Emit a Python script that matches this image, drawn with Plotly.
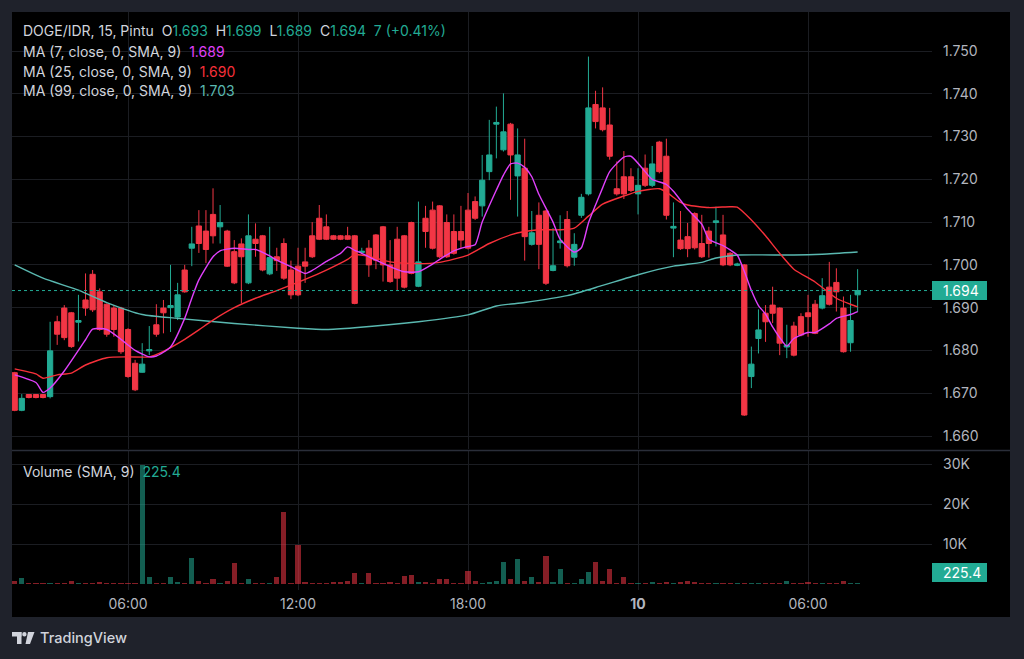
import pandas as pd
import plotly.graph_objects as go

# ---------------- data ----------------
start_time = "2024-09-09 02:00"
bar_minutes = 15

opens = [1.6748, 1.6660, 1.6697, 1.6697, 1.6697, 1.6692, 1.6867, 1.6899, 1.6888, 1.6866,
         1.6918, 1.6978, 1.6937, 1.6908, 1.6899, 1.6899, 1.6849, 1.6770, 1.6749, 1.6799,
         1.6860, 1.6899, 1.6900, 1.6878, 1.6988, 1.7039, 1.7091, 1.7079, 1.7118, 1.7089,
         1.7079, 1.7031, 1.7049, 1.6958, 1.7060, 1.7068, 1.6979, 1.7019, 1.7050, 1.6988,
         1.6997, 1.7007, 1.7068, 1.7109, 1.7089, 1.7068, 1.7068, 1.7068, 1.7068, 1.7029,
         1.7039, 1.7070, 1.7089, 1.7000, 1.7060, 1.7068, 1.7099, 1.6950, 1.7109, 1.7128,
         1.7138, 1.7099, 1.7078, 1.7078, 1.7128, 1.7148, 1.7138, 1.7218, 1.7329, 1.7269,
         1.7329, 1.7208, 1.7226, 1.7048, 1.7116, 1.7126, 1.6987, 1.7052, 1.7106, 1.7018,
         1.7116, 1.7166, 1.7375, 1.7367, 1.7327, 1.7178, 1.7206, 1.7206, 1.7166, 1.7226,
         1.7186, 1.7287, 1.7254, 1.7086, 1.7058, 1.7066, 1.7120, 1.7050, 1.7079, 1.7099,
         1.7070, 1.7027, 1.6999, 1.7000, 1.6739, 1.6828, 1.6887, 1.6906, 1.6899, 1.6808,
         1.6857, 1.6879, 1.6888, 1.6908, 1.6899, 1.6948, 1.6959, 1.6899, 1.6818, 1.6930]
highs = [1.6750, 1.6698, 1.6698, 1.6698, 1.6698, 1.6867, 1.6881, 1.6906, 1.6890, 1.6930,
         1.6980, 1.6988, 1.6945, 1.6910, 1.6905, 1.6902, 1.6852, 1.6778, 1.6817, 1.6857,
         1.6908, 1.6918, 1.7000, 1.6958, 1.7000, 1.7089, 1.7128, 1.7128, 1.7179, 1.7140,
         1.7082, 1.7058, 1.7062, 1.7118, 1.7097, 1.7070, 1.7089, 1.7040, 1.7062, 1.7010,
         1.7040, 1.7040, 1.7100, 1.7140, 1.7118, 1.7070, 1.7070, 1.7089, 1.7070, 1.7040,
         1.7058, 1.7072, 1.7091, 1.7058, 1.7089, 1.7070, 1.7101, 1.7148, 1.7138, 1.7148,
         1.7140, 1.7118, 1.7118, 1.7138, 1.7168, 1.7160, 1.7257, 1.7339, 1.7370, 1.7401,
         1.7332, 1.7319, 1.7295, 1.7126, 1.7146, 1.7128, 1.7086, 1.7116, 1.7126, 1.7074,
         1.7166, 1.7487, 1.7407, 1.7415, 1.7367, 1.7242, 1.7266, 1.7226, 1.7226, 1.7258,
         1.7278, 1.7290, 1.7295, 1.7146, 1.7126, 1.7098, 1.7123, 1.7117, 1.7089, 1.7136,
         1.7117, 1.7030, 1.7005, 1.7002, 1.6809, 1.6896, 1.6906, 1.6949, 1.6901, 1.6860,
         1.6867, 1.6887, 1.6930, 1.6918, 1.6969, 1.7007, 1.6992, 1.6926, 1.6930, 1.6990]
lows = [1.6658, 1.6658, 1.6688, 1.6688, 1.6688, 1.6688, 1.6813, 1.6824, 1.6806, 1.6821,
        1.6881, 1.6890, 1.6846, 1.6832, 1.6832, 1.6792, 1.6736, 1.6705, 1.6748, 1.6789,
        1.6832, 1.6840, 1.6843, 1.6871, 1.6935, 1.6997, 1.7028, 1.7004, 1.7050, 1.7050,
        1.6995, 1.6955, 1.6910, 1.6955, 1.7019, 1.6985, 1.6976, 1.6986, 1.6965, 1.6920,
        1.6927, 1.6958, 1.7016, 1.7058, 1.7058, 1.7058, 1.7058, 1.7058, 1.6908, 1.7025,
        1.6972, 1.6990, 1.6961, 1.6958, 1.6940, 1.6945, 1.6978, 1.6948, 1.7040, 1.7036,
        1.7016, 1.7016, 1.7024, 1.7039, 1.7036, 1.7105, 1.7113, 1.7198, 1.7249, 1.7265,
        1.7152, 1.7113, 1.7010, 1.7045, 1.6990, 1.6953, 1.6985, 1.7038, 1.6994, 1.6998,
        1.7110, 1.7162, 1.7319, 1.7312, 1.7246, 1.7162, 1.7154, 1.7170, 1.7118, 1.7182,
        1.7182, 1.7214, 1.7106, 1.7018, 1.7035, 1.7018, 1.7036, 1.7016, 1.7017, 1.7043,
        1.6997, 1.6997, 1.6997, 1.6647, 1.6712, 1.6793, 1.6820, 1.6864, 1.6789, 1.6782,
        1.6786, 1.6833, 1.6832, 1.6838, 1.6896, 1.6905, 1.6891, 1.6795, 1.6797, 1.6890]
closes = [1.6660, 1.6688, 1.6690, 1.6690, 1.6690, 1.6799, 1.6838, 1.6830, 1.6809, 1.6870,
          1.6899, 1.6895, 1.6849, 1.6838, 1.6849, 1.6797, 1.6739, 1.6708, 1.6768, 1.6802,
          1.6838, 1.6888, 1.6905, 1.6930, 1.6937, 1.7049, 1.7050, 1.7036, 1.7068, 1.7099,
          1.6997, 1.6958, 1.7019, 1.7068, 1.7050, 1.6988, 1.7017, 1.7010, 1.6969, 1.6930,
          1.6930, 1.6997, 1.7019, 1.7060, 1.7060, 1.7060, 1.7060, 1.7060, 1.6910, 1.7032,
          1.7000, 1.7011, 1.7000, 1.6961, 1.6969, 1.6948, 1.6980, 1.7007, 1.7078, 1.7039,
          1.7019, 1.7019, 1.7027, 1.7058, 1.7039, 1.7109, 1.7198, 1.7257, 1.7333, 1.7311,
          1.7257, 1.7257, 1.7066, 1.7075, 1.7048, 1.6957, 1.6998, 1.7056, 1.6998, 1.7048,
          1.7158, 1.7367, 1.7335, 1.7316, 1.7254, 1.7166, 1.7166, 1.7174, 1.7186, 1.7186,
          1.7236, 1.7218, 1.7116, 1.7090, 1.7038, 1.7038, 1.7040, 1.7019, 1.7050, 1.7103,
          1.7000, 1.7000, 1.7002, 1.6649, 1.6768, 1.6848, 1.6867, 1.6887, 1.6817, 1.6812,
          1.6789, 1.6836, 1.6879, 1.6840, 1.6928, 1.6908, 1.6937, 1.6797, 1.6870, 1.6940]
volumes = [800, 1500, 200, 200, 200, 250, 200, 200, 700, 150,
           200, 200, 400, 250, 200, 250, 250, 300, 29800, 1800,
           200, 300, 1700, 400, 200, 6500, 700, 200, 1300, 250,
           800, 5200, 250, 1300, 250, 250, 300, 1700, 17900, 300,
           9800, 400, 200, 200, 250, 600, 450, 800, 2700, 200,
           2700, 200, 250, 450, 250, 2100, 2200, 500, 550, 250,
           1300, 1300, 300, 300, 3300, 800, 350, 400, 800, 5600,
           1300, 6300, 700, 1700, 600, 7000, 450, 3750, 250, 300,
           1200, 2900, 5400, 700, 3700, 250, 1800, 200, 200, 300,
           600, 250, 600, 250, 600, 650, 600, 250, 200, 200,
           250, 200, 200, 300, 250, 200, 200, 250, 300, 800,
           250, 250, 600, 250, 200, 250, 250, 700, 250, 225.4]

ma7_idx = [0, 3, 4, 5, 7, 10, 11, 13, 15, 17, 19, 20, 22, 24, 25, 26, 28, 29, 31, 33,
           34, 36, 37, 39, 41, 42, 44, 46, 47, 48, 49, 51, 53, 55, 57, 59, 60, 62, 64, 65,
           66, 68, 69, 70, 71, 72, 73, 74, 76, 77, 79, 80, 81, 82, 83, 84, 86, 87, 89, 90,
           92, 93, 95, 97, 98, 100, 101, 102, 103, 104, 105, 106, 107, 108, 109, 110, 112, 113, 115, 116,
           118, 119]
ma7_val = [1.6743, 1.6725, 1.6702, 1.6712, 1.6752, 1.6825, 1.6850, 1.6849, 1.6826, 1.6800,
           1.6785, 1.6787, 1.6808, 1.6875, 1.6922, 1.6965, 1.7019, 1.7033, 1.7039, 1.7036,
           1.7036, 1.7021, 1.7011, 1.6996, 1.6980, 1.6987, 1.7008, 1.7027, 1.7042, 1.7034,
           1.7027, 1.7011, 1.6996, 1.6984, 1.6984, 1.7002, 1.7013, 1.7033, 1.7043, 1.7047,
           1.7100, 1.7175, 1.7210, 1.7236, 1.7238, 1.7228, 1.7206, 1.7165, 1.7100, 1.7060,
           1.7030, 1.7040, 1.7098, 1.7140, 1.7180, 1.7218, 1.7252, 1.7254, 1.7218, 1.7200,
           1.7188, 1.7172, 1.7130, 1.7095, 1.7060, 1.7045, 1.7035, 1.7023, 1.6985, 1.6940,
           1.6905, 1.6885, 1.6855, 1.6830, 1.6810, 1.6828, 1.6842, 1.6842, 1.6862, 1.6875,
           1.6884, 1.6891]
ma25_idx = [0, 3, 4, 6, 8, 10, 13, 16, 19, 21, 24, 26, 28, 31, 34, 37, 41, 44, 47, 48,
            50, 53, 57, 60, 64, 67, 70, 72, 74, 77, 79, 81, 83, 86, 88, 91, 92, 94, 95, 98,
            101, 102, 104, 106, 108, 110, 113, 116, 118, 119]
ma25_val = [1.6757, 1.6745, 1.6735, 1.6743, 1.6747, 1.6766, 1.6783, 1.6785, 1.6785, 1.6798,
            1.6826, 1.6848, 1.6871, 1.6900, 1.6922, 1.6940, 1.6966, 1.6988, 1.7013, 1.7024,
            1.7020, 1.7007, 1.7003, 1.7006, 1.7023, 1.7050, 1.7070, 1.7078, 1.7082, 1.7082,
            1.7086, 1.7114, 1.7142, 1.7161, 1.7172, 1.7178, 1.7170, 1.7146, 1.7140, 1.7134,
            1.7136, 1.7135, 1.7105, 1.7068, 1.7027, 1.6990, 1.6960, 1.6922, 1.6908, 1.6902]
ma99_idx = [0, 4, 9, 13, 18, 23, 31, 40, 44, 48, 57, 64, 68, 72, 78, 83, 88, 93, 97, 99,
            102, 110, 114, 119]
ma99_val = [1.7000, 1.6969, 1.6941, 1.6912, 1.6884, 1.6875, 1.6863, 1.6852, 1.6849, 1.6853,
            1.6867, 1.6883, 1.6904, 1.6912, 1.6928, 1.6952, 1.6977, 1.6997, 1.7006, 1.7016,
            1.7023, 1.7023, 1.7025, 1.7030]

x_tick_times = ["2024-09-09 06:00", "2024-09-09 12:00", "2024-09-09 18:00",
                "2024-09-10 00:00", "2024-09-10 06:00"]
x_tick_text = ["06:00", "12:00", "18:00", "<b>10</b>", "06:00"]
price_ticks = [1.660, 1.670, 1.680, 1.690, 1.700, 1.710, 1.720, 1.730, 1.740, 1.750]
price_tick_text = ["1.660", "1.670", "1.680", "1.690", "1.700", "1.710", "1.720", "1.730", "1.740", "1.750"]
vol_ticks = [10000, 20000, 30000]
vol_tick_text = ["10K", "20K", "30K"]

# ---------------- styles / geometry ----------------
UP = "#22ab94"
DOWN = "#f23645"
UP_VOL = "rgba(34,171,148,0.55)"
DOWN_VOL = "rgba(242,54,69,0.55)"
MA7_C = "#e040fb"
MA25_C = "#f7303a"
MA99_C = "#5ab8b0"
TXT = "#d1d4dc"
AX = "#b2b5be"
GRID = "#1b1d22"
FONT = "Inter"
FS = 14

FIG_W, FIG_H = 1024, 659
M_L, M_R, M_T, M_B = 12, 92, 12, 69
PLOT_W = FIG_W - M_L - M_R
PLOT_H = FIG_H - M_T - M_B


def px_x(px):
    return (px - M_L) / PLOT_W


def px_y(py):
    return (FIG_H - M_B - py) / PLOT_H


step = pd.Timedelta(minutes=bar_minutes)
t0 = pd.Timestamp(start_time)
times = [t0 + i * step for i in range(len(opens))]


def t_at(k):
    return t0 + pd.Timedelta(minutes=bar_minutes * k)


# price scale: 1.750 at y=51px, 1.660 at y=436px
ppu = (436 - 51) / (1.750 - 1.660)
p_top = 1.750 + (51 - M_T) / ppu
p_bot = 1.660 - (449 - 436) / ppu
# volume scale: 30K at y=464, 10K at 544 -> zero at 584
ppv = (544 - 464) / 20000
v_top = 30000 + (464 - 451) / ppv
v_bot = -(FIG_H - M_B - 584) / ppv

fig = go.Figure()

fig.add_trace(go.Candlestick(
    x=times, open=opens, high=highs, low=lows, close=closes,
    increasing=dict(line=dict(color=UP, width=1), fillcolor=UP),
    decreasing=dict(line=dict(color=DOWN, width=1), fillcolor=DOWN),
    whiskerwidth=0, xaxis="x", yaxis="y", showlegend=False, hoverinfo="skip"))

for idx, val, col in [(ma99_idx, ma99_val, MA99_C), (ma25_idx, ma25_val, MA25_C), (ma7_idx, ma7_val, MA7_C)]:
    fig.add_trace(go.Scatter(
        x=[t_at(k) for k in idx], y=val, mode="lines",
        line=dict(color=col, width=1.4, shape="spline", smoothing=0.6),
        xaxis="x", yaxis="y", showlegend=False, hoverinfo="skip"))

vol_colors = [UP_VOL if c >= o else DOWN_VOL for o, c in zip(opens, closes)]
fig.add_trace(go.Bar(
    x=times, y=volumes, marker=dict(color=vol_colors, line=dict(width=0)),
    width=0.74 * bar_minutes * 60 * 1000, xaxis="x2", yaxis="y2",
    showlegend=False, hoverinfo="skip"))

x_range = [t_at(-0.38), t_at(129.5)]
tick_dt = [pd.Timestamp(t) for t in x_tick_times]

fig.update_layout(
    width=FIG_W, height=FIG_H,
    margin=dict(l=M_L, r=M_R, t=M_T, b=M_B, pad=0),
    paper_bgcolor="#1f222b", plot_bgcolor="#000000",
    font=dict(family=FONT, size=FS, color=AX),
    bargap=0, boxgap=0.26, boxgroupgap=0,
    xaxis=dict(domain=[0, 1], anchor="y", range=x_range, type="date",
               tickvals=tick_dt, ticktext=x_tick_text, showticklabels=False,
               showgrid=True, gridcolor=GRID, gridwidth=1, zeroline=False,
               showline=False, rangeslider=dict(visible=False), fixedrange=True),
    xaxis2=dict(domain=[0, 1], anchor="y2", matches="x", range=x_range, type="date",
                tickvals=tick_dt, ticktext=x_tick_text, showticklabels=True,
                tickfont=dict(family=FONT, size=FS, color=AX), ticks="",
                ticklabelstandoff=4,
                showgrid=True, gridcolor=GRID, gridwidth=1, zeroline=False,
                showline=False, rangeslider=dict(visible=False)),
    yaxis=dict(domain=[px_y(449), 1], anchor="x", range=[p_bot, p_top], side="right",
               tickvals=price_ticks, ticktext=price_tick_text, ticks="",
               ticklabelstandoff=10,
               tickfont=dict(family=FONT, size=FS, color=AX),
               showgrid=True, gridcolor=GRID, zeroline=False, showline=False),
    yaxis2=dict(domain=[0, px_y(451)], anchor="x2", range=[v_bot, v_top], side="right",
                tickvals=vol_ticks, ticktext=vol_tick_text, ticks="",
                ticklabelstandoff=10,
                tickfont=dict(family=FONT, size=FS, color=AX),
                showgrid=True, gridcolor=GRID, zeroline=False, showline=False),
)

last_c = closes[-1]
shapes = [
    # black chart panel
    dict(type="rect", xref="paper", yref="paper", x0=px_x(12), x1=px_x(1010),
         y0=px_y(617), y1=px_y(12), fillcolor="#000000", line=dict(width=0), layer="below"),
    # pane separator
    dict(type="line", xref="paper", yref="paper", x0=px_x(12), x1=px_x(1010),
         y0=px_y(450.5), y1=px_y(450.5), line=dict(color="#2a2e39", width=1.5)),
    # last price dotted line
    dict(type="line", xref="paper", yref="y", x0=0, x1=1, y0=last_c, y1=last_c,
         line=dict(color=UP, width=1, dash="dot")),
    # last price label box
    dict(type="rect", xref="paper", yref="y", x0=px_x(932), x1=px_x(987),
         y0=last_c - 9.5 / ppu, y1=last_c + 9.5 / ppu, fillcolor=UP, line=dict(width=0)),
    # volume label box
    dict(type="rect", xref="paper", yref="paper", x0=px_x(932), x1=px_x(987),
         y0=px_y(582), y1=px_y(563), fillcolor=UP, line=dict(width=0)),
]

# TradingView logo glyph
logo_col = "#d1d4dc"
shapes += [
    dict(type="rect", xref="paper", yref="paper", x0=px_x(12), x1=px_x(21.5),
         y0=px_y(636.5), y1=px_y(632), fillcolor=logo_col, line=dict(width=0)),
    dict(type="rect", xref="paper", yref="paper", x0=px_x(17), x1=px_x(21.5),
         y0=px_y(644), y1=px_y(632), fillcolor=logo_col, line=dict(width=0)),
    dict(type="circle", xref="paper", yref="paper", x0=px_x(22.2), x1=px_x(26.6),
         y0=px_y(636.4), y1=px_y(632), fillcolor=logo_col, line=dict(width=0)),
    dict(type="path", xref="paper", yref="paper",
         path="M {} {} L {} {} L {} {} L {} {} Z".format(
             px_x(28), px_y(632), px_x(34.5), px_y(632),
             px_x(30), px_y(644), px_x(25.5), px_y(644)),
         fillcolor=logo_col, line=dict(width=0)),
]
fig.update_layout(shapes=shapes)

SP = "\u00a0"


def col(t, c):
    return '<span style="color:{}">{}</span>'.format(c, t)


chg = closes[-1] - closes[-2]
chg_txt = "{:d} ({:+.2f}%)".format(int(round(chg * 1000)), chg / closes[-2] * 100)
line1 = ("DOGE/IDR, 15, Pintu" + SP * 2 +
         "O" + col("{:.3f}".format(opens[-1]), UP) + SP * 2 +
         "H" + col("{:.3f}".format(highs[-1]), UP) + SP * 2 +
         "L" + col("{:.3f}".format(lows[-1]), UP) + SP * 2 +
         "C" + col("{:.3f}".format(closes[-1]), UP) + SP * 2 +
         col(chg_txt, UP))
line2 = "MA (7, close, 0, SMA, 9)" + SP * 2 + col("{:.3f}".format(ma7_val[-1]), MA7_C)
line3 = "MA (25, close, 0, SMA, 9)" + SP * 2 + col("{:.3f}".format(ma25_val[-1]), MA25_C)
line4 = "MA (99, close, 0, SMA, 9)" + SP * 2 + col("{:.3f}".format(ma99_val[-1]), MA99_C)
vol_line = "Volume (SMA, 9)" + SP * 2 + col("{:.1f}".format(volumes[-1]), UP)

annos = []
for txt, py in [(line1, 31), (line2, 51), (line3, 71), (line4, 91), (vol_line, 471)]:
    annos.append(dict(text=txt, xref="paper", yref="paper", x=px_x(21), y=px_y(py),
                      xanchor="left", yanchor="middle", showarrow=False,
                      font=dict(family=FONT, size=FS, color=TXT)))
annos.append(dict(text="{:.3f}".format(last_c), xref="paper", yref="y", x=px_x(941),
                  y=last_c, xanchor="left", yanchor="middle", showarrow=False,
                  font=dict(family=FONT, size=FS, color="#ffffff")))
annos.append(dict(text="{:.1f}".format(volumes[-1]), xref="paper", yref="paper", x=px_x(941),
                  y=px_y(572.5), xanchor="left", yanchor="middle", showarrow=False,
                  font=dict(family=FONT, size=FS, color="#ffffff")))
annos.append(dict(text="TradingView", xref="paper", yref="paper", x=px_x(38), y=px_y(638),
                  xanchor="left", yanchor="middle", showarrow=False,
                  font=dict(family=FONT, size=14.5, color=TXT, weight=500)))
fig.update_layout(annotations=annos)

fig.write_html("out.html")
